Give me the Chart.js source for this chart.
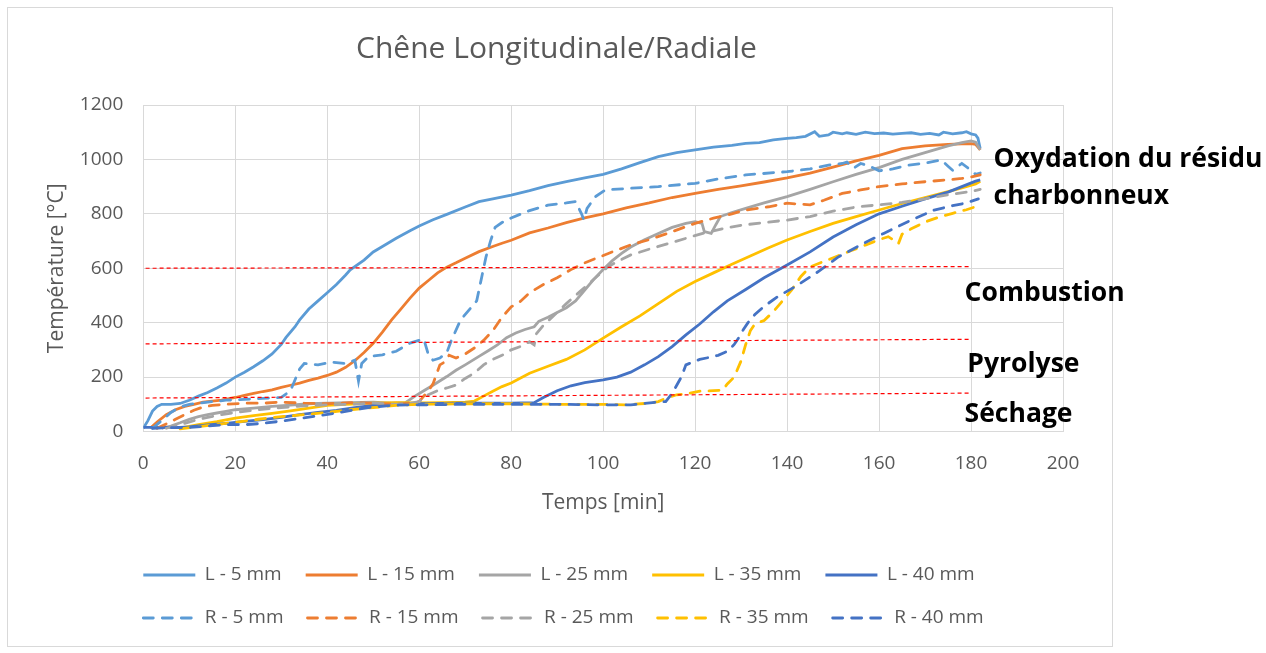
<!DOCTYPE html>
<html>
<head>
<meta charset="utf-8">
<script src="https://cdn.jsdelivr.net/npm/chart.js@4.4.1/dist/chart.umd.min.js"></script>
<style>
html,body{margin:0;padding:0;background:#fff;}
#wrap{position:relative;width:1266px;height:653px;overflow:hidden;}
#frame{position:absolute;left:7px;top:7px;width:1104px;height:638px;border:1.5px solid #D9D9D9;}
canvas{position:absolute;left:0;top:0;}
</style>
</head>
<body>
<div id="wrap"><div id="frame"></div><canvas id="c" width="1266" height="653"></canvas></div>
<script>
// ---- Series names ----
const seriesNames = ['L - 5 mm','L - 15 mm','L - 25 mm','L - 35 mm','L - 40 mm',
                     'R - 5 mm','R - 15 mm','R - 25 mm','R - 35 mm','R - 40 mm'];

// ---- Longitudinal series (time [min], temperature [°C]) ----
const tL5  = [0,1,2,3,4,6,8,10,12,14,16,18,20,22,24,26,28,30,31,33,34,36,38,40,42,44,45,48,50,52,55,58,60,63,66,70,73,76,80,84,88,92,96,100,104,108,112,116,120,124,128,131,134,137,140,142,144,146,147,149,150,152,153,155,157,159,161,163,165,167,169,171,173,174,176,178,179,180,181,181.5,182];
const vL5  = [12,40,75,92,100,100,103,115,130,143,160,178,200,218,238,260,285,320,345,385,410,450,480,510,540,575,594,630,660,680,710,738,755,778,798,825,845,855,869,885,904,918,932,945,965,988,1010,1025,1035,1045,1052,1059,1062,1072,1077,1080,1085,1102,1085,1090,1100,1094,1098,1092,1100,1095,1097,1093,1096,1098,1092,1096,1090,1100,1094,1098,1102,1094,1090,1078,1040];

const tL15 = [1.5,3,5,7,9,11,13,15,17,20,22,24,26,28,30,32,34,36,38,40,42,44,46,48,50,52,54,56,58,60,62,64,66,68,70,73,76,78,80,84,88,92,96,100,105,110,115,120,125,130,135,140,145,150,155,160,165,170,175,178,180,181,182];
const vL15 = [12,35,62,80,92,100,108,112,115,125,133,140,147,153,162,170,178,188,196,206,218,236,260,290,324,365,410,450,490,527,555,583,604,620,637,661,680,692,703,730,748,768,785,800,822,840,860,875,890,903,917,932,950,972,995,1015,1040,1050,1055,1057,1058,1055,1035];

const tL25 = [4,6,8,10,12,14,16,18,20,24,28,32,36,40,45,50,54,57,59,61,63,66,68,70,73,75,77,79,81,83,85,86,88,90,92,94,96,98,100,102,104,106,109,112,115,118,120,121.5,122,123.5,124.5,125.5,128,131,135,140,145,150,155,160,165,170,175,178,180,181,182];
const vL25 = [12,20,32,45,55,62,68,74,80,86,92,97,102,104,106,108,104,106,129,150,170,202,225,245,276,297,318,345,362,375,385,405,420,437,455,480,520,560,595,628,655,678,705,728,750,765,771,765,735,728,760,790,805,820,840,863,890,918,945,970,1000,1025,1050,1062,1068,1063,1035];

const tL35 = [8,12,16,20,24,28,32,36,40,44,50,55,60,65,70,72,74,76,78,80,84,88,92,96,100,104,108,112,116,120,124,128,132,136,140,145,150,155,160,165,170,175,178,181,182];
const vL35 = [12,25,36,49,58,67,76,86,96,100,104,106,105,106,108,112,130,148,165,178,214,240,265,300,343,385,425,470,515,551,583,615,645,675,704,735,765,790,814,838,860,882,895,910,920];

const tL40 = [0,4,8,10,14,18,22,26,30,34,38,42,46,50,55,60,70,80,85,87,90,93,96,100,103,106,109,112,115,118,121,124,127,131,135,140,145,150,155,160,165,170,175,178,181,182];
const vL40 = [15,15,15,17,24,30,37,44,52,62,70,78,88,96,100,102,104,104,106,125,150,168,180,190,200,218,245,275,312,355,395,440,480,522,565,612,660,715,760,800,828,855,880,900,920,925];

// ---- Radial series ----
const tR5  = [2,4,6,8,10,14,18,22,26,30,32,34,35,38,41,44,46,46.8,47.5,49,52,55,58,61,62,63,64.5,66,67,69,71,72.5,73.5,74.5,75.5,76.5,78,80,84,88,92,94,95.3,95.8,96.5,98.3,100.5,106,112,120,125,131,140,145,149,152,153,154.5,156,158,160,163,166,170,173.5,175,176,178,180,181,182];
const vR5  = [12,40,70,90,100,108,115,118,122,125,150,230,250,245,255,250,262,185,250,275,282,295,325,340,282,262,270,290,335,410,450,480,560,640,700,750,768,785,812,832,840,845,800,778,820,863,888,894,900,912,928,943,955,965,979,985,990,968,985,975,958,965,978,986,998,975,960,985,960,945,950];

const tR15 = [3,5,7,9,11,13,15,18,22,26,30,35,40,45,50,55,58,60,62,63,64.5,65.5,66.5,68,70,72,74,76,78,80,82,84,87,90,93,96,99,102,106,110,114,118,120,124,128,131,136,140,145,148,152,156,160,165,170,175,178,180,182];
const vR15 = [12,28,45,62,78,90,96,100,104,104,108,104,102,106,104,100,104,110,150,175,245,255,280,270,285,307,335,370,420,458,478,510,540,565,595,620,640,660,686,705,728,753,765,784,800,814,826,839,833,850,875,888,900,910,918,925,930,935,943];

const tR25 = [5,8,11,14,17,20,25,30,35,40,45,50,55,58,60,62,64,66,68,70,72,74,76,78,80,82,84,85,85.5,87,89,92,95,97,99,101,103,106,110,114,118,122,126,130,135,140,145,150,155,160,165,170,175,180,182];
const vR25 = [12,25,40,52,62,70,80,88,94,98,100,104,100,104,110,135,150,160,171,195,215,245,265,280,300,312,330,318,360,390,422,470,515,545,575,605,624,649,670,690,710,730,745,758,768,777,790,810,825,833,842,855,870,882,890];

const tR35 = [8,12,16,20,25,30,35,40,45,50,55,60,70,80,90,100,105,110,112,114,116,118,121,124,126,127,128.5,130,131,132,133,135,137,139,141,143,145,148,151,154,157,160,162,163.5,164.2,165,167,170,173,176,179,181];
const vR35 = [10,18,26,34,45,55,62,70,80,88,96,100,102,102,100,100,98,104,110,125,135,138,148,150,152,175,200,260,320,370,395,408,440,480,520,570,605,625,645,665,685,705,716,700,690,725,745,770,788,802,815,826];

const tR40 = [2,6,10,14,18,22,26,30,34,38,42,46,50,54,58,62,70,80,90,100,106,112,113.6,115,116,117,118,119.5,121,123,125,127,128.5,129.5,130.5,131.5,133,135,138,142,147,151,156,161,167,172,176,179,181.6];
const vR40 = [12,14,15,20,25,25,30,38,48,58,68,80,90,96,98,98,100,100,100,98,98,108,110,140,170,200,245,255,265,272,280,295,320,345,375,400,430,460,496,535,590,640,686,728,777,814,830,840,855];

// ---- Phase boundary lines (start/end time, start/end temperature) ----
const phaseLineT = [0.5, 180];
const phaseLine1 = [600, 606];
const phaseLine2 = [322, 339];
const phaseLine3 = [123, 141];

// ---- Axis ticks ----
const xTicks = {min: 0, max: 200, step: 20};
const yTicks = {min: 0, max: 1200, step: 200};

const palette = ['#5B9BD5','#ED7D31','#A5A5A5','#FFC000','#4472C4'];
const times  = [tL5,tL15,tL25,tL35,tL40,tR5,tR15,tR25,tR35,tR40];
const values = [vL5,vL15,vL25,vL35,vL40,vR5,vR15,vR25,vR35,vR40];

function pts(t, v){ return t.map((x,i)=>({x:x, y:v[i]})); }

const datasets = seriesNames.map((name,i)=>({
  label: name,
  data: pts(times[i], values[i]),
  borderColor: palette[i%5],
  backgroundColor: palette[i%5],
  borderWidth: 2.8,
  borderDash: i>=5 ? [10,9] : [],
  borderCapStyle: i>=5 ? 'round' : 'butt',
  pointRadius: 0,
  tension: 0,
  order: 20 - i
}));
[phaseLine1, phaseLine2, phaseLine3].forEach((ln)=>{
  datasets.push({
    label: '_phase',
    data: pts(phaseLineT, ln),
    borderColor: '#FF0000',
    borderWidth: 1.2,
    borderDash: [4,3],
    pointRadius: 0,
    order: -1
  });
});

const FONT = "'Open Sans', 'DejaVu Sans', sans-serif";
Chart.defaults.font.family = FONT;
Chart.defaults.color = '#595959';

const legendShift = {
  id: 'legendShift',
  afterLayout(chart){
    const lg = chart.legend;
    if (lg) { lg.left -= lg.options.labels.padding; }
  }
};

const phaseText = {
  id: 'phaseText',
  afterDraw(chart){
    const {ctx, scales} = chart;
    const xs = scales.x, ys = scales.y;
    const items = [
      ['Oxydation du résidu', 184.9, 972],
      ['charbonneux', 184.9, 836],
      ['Combustion', 178.6, 480],
      ['Pyrolyse', 179.2, 219],
      ['Séchage', 178.6, 36]
    ];
    ctx.save();
    ctx.font = "bold 26.5px " + FONT;
    ctx.fillStyle = '#000000';
    ctx.textAlign = 'left';
    ctx.textBaseline = 'alphabetic';
    items.forEach(it => ctx.fillText(it[0], xs.getPixelForValue(it[1]), ys.getPixelForValue(it[2])));
    ctx.restore();
  }
};

new Chart(document.getElementById('c'), {
  type: 'line',
  data: { datasets: datasets },
  plugins: [legendShift, phaseText],
  options: {
    responsive: false,
    animation: false,
    devicePixelRatio: 1,
    layout: { padding: { top: 0, left: 0, right: 153, bottom: 15.5 } },
    plugins: {
      title: {
        display: true,
        text: 'Chêne Longitudinale/Radiale',
        color: '#595959',
        font: { size: 30, weight: 'normal', family: FONT },
        padding: { top: 31, bottom: 38 }
      },
      legend: {
        display: true,
        position: 'bottom',
        align: 'start',
        fullSize: false,
        labels: {
          usePointStyle: true,
          pointStyle: 'line',
          pointStyleWidth: 52,
          padding: 24,
          color: '#595959',
          font: { size: 19, family: FONT },
          filter: (item) => item.datasetIndex < 10,
          sort: (a, b) => a.datasetIndex - b.datasetIndex,
          generateLabels(chart){
            const items = Chart.defaults.plugins.legend.labels.generateLabels(chart);
            items.forEach(it => {
              const ds = chart.data.datasets[it.datasetIndex];
              it.lineDash = ds.borderDash || [];
              it.lineWidth = ds.borderWidth;
              it.strokeStyle = ds.borderColor;
              it.fillStyle = ds.borderColor;
              it.lineCap = ds.borderCapStyle || 'butt';
            });
            return items;
          }
        }
      },
      tooltip: { enabled: false }
    },
    scales: {
      x: {
        type: 'linear',
        min: xTicks.min, max: xTicks.max,
        ticks: { stepSize: xTicks.step, padding: 21, font: { size: 19 }, color: '#595959', callback: (v) => String(v) },
        grid: { color: '#D9D9D9', lineWidth: 1, drawTicks: false },
        border: { display: true, color: '#D9D9D9', width: 1 },
        title: { display: true, text: 'Temps [min]', color: '#595959', font: { size: 21 }, padding: { top: 0, bottom: 26 } },
        afterFit(s){ s.height = 110; }
      },
      y: {
        type: 'linear',
        position: 'left',
        min: yTicks.min, max: yTicks.max,
        ticks: { stepSize: yTicks.step, padding: 20, font: { size: 19 }, color: '#595959', callback: (v) => String(v) },
        grid: { color: '#D9D9D9', lineWidth: 1, drawTicks: false },
        border: { display: false },
        title: { display: true, text: 'Température [°C]', color: '#595959', font: { size: 21 }, padding: { top: 44, bottom: 0 } },
        afterFit(s){ s.width = 143.3; }
      },
      yR: {
        type: 'linear',
        position: 'right',
        display: true,
        grid: { display: false },
        border: { display: false },
        ticks: { display: false },
        afterFit(s){ s.width = 50; }
      }
    }
  }
});
</script>
</body>
</html>
